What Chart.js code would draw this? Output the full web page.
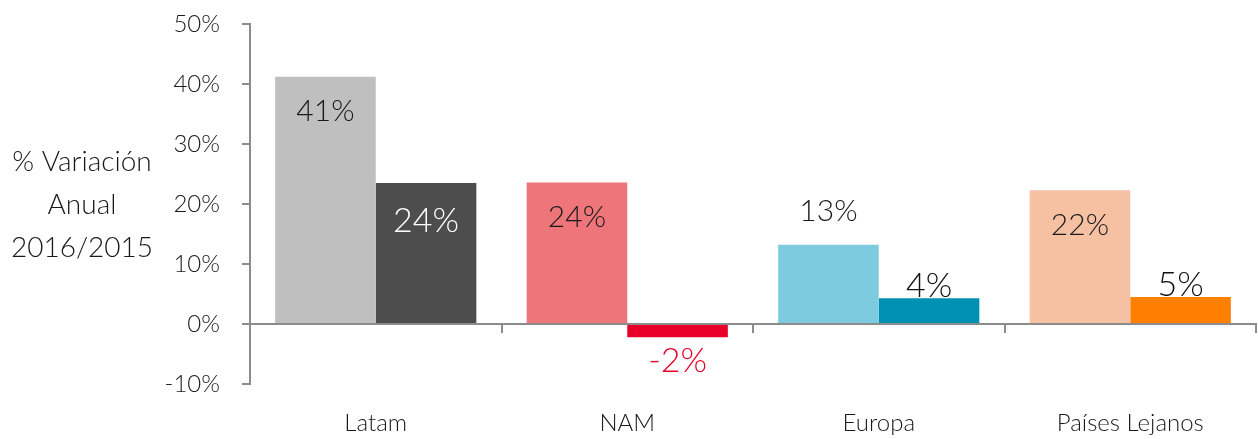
<!DOCTYPE html>
<html>
<head>
<meta charset="utf-8">
<script src="https://cdn.jsdelivr.net/npm/chart.js@4"></script>
<style>
  body { margin: 0; background: #fff; }
  #wrap { width: 1258px; height: 439px; position: relative; }
</style>
</head>
<body>
<div id="wrap"><canvas id="chart"></canvas></div>
<script>
const categories = ['Latam', 'NAM', 'Europa', 'Países Lejanos'];
const serie1 = [41.2, 23.6, 13.2, 22.3];
const serie2 = [23.5, -2.2, 4.3, 4.5];
const yMin = -10;
const yMax = 50;
const yStep = 10;
const yTitle = ['% Variación', 'Anual', '2016/2015'];

const colors1 = ['#BFBFBF', '#EE767B', '#7ECBE0', '#F6C1A3'];
const colors2 = ['#4D4D4D', '#E8002A', '#0090B3', '#FF8000'];
const labelColors2 = ['#ffffff', '#E8002A', '#111111', '#111111'];
const axisGrey = '#8c8c8c';
const fontFamily = "Lato, 'Open Sans', sans-serif";

// value labels drawn on / above / below each bar
const valueLabels = {
    id: 'valueLabels',
    afterDatasetsDraw(chart) {
        const ctx = chart.ctx;
        ctx.save();
        ctx.textAlign = 'center';
        ctx.textBaseline = 'middle';
        chart.data.datasets.forEach((ds, i) => {
            const meta = chart.getDatasetMeta(i);
            meta.data.forEach((bar, j) => {
                const v = ds.data[j];
                const h = Math.abs(bar.base - bar.y);
                let y;
                if (i === 0) {
                    ctx.font = '300 30px ' + fontFamily;
                    ctx.fillStyle = '#1a1a1a';
                    y = h > 100 ? bar.y + 35 : bar.y - 33;
                } else {
                    ctx.font = '300 34px ' + fontFamily;
                    ctx.fillStyle = labelColors2[j];
                    if (v < 0) y = bar.y + 24;
                    else y = h > 100 ? bar.y + 38 : bar.y - 12;
                }
                ctx.fillText(Math.round(v) + '%', bar.x, y);
            });
        });
        ctx.restore();
    }
};

// horizontal y-axis title on the left
const sideTitle = {
    id: 'sideTitle',
    afterDraw(chart) {
        const ctx = chart.ctx;
        ctx.save();
        ctx.font = '300 28px ' + fontFamily;
        ctx.fillStyle = '#1a1a1a';
        ctx.textAlign = 'center';
        ctx.textBaseline = 'middle';
        yTitle.forEach((line, k) => {
            ctx.fillText(line, 82, 162 + k * 43);
        });
        ctx.restore();
    }
};

const ctx = document.getElementById('chart').getContext('2d');
new Chart(ctx, {
    type: 'bar',
    data: {
        labels: categories,
        datasets: [{
            data: serie1,
            backgroundColor: colors1,
            categoryPercentage: 0.8,
            barPercentage: 1
        }, {
            data: serie2,
            backgroundColor: colors2,
            categoryPercentage: 0.8,
            barPercentage: 1
        }]
    },
    options: {
        responsive: true,
        maintainAspectRatio: false,
        animation: false,
        layout: { padding: { top: 24, right: 2, bottom: 0, left: 0 } },
        plugins: {
            legend: { display: false },
            tooltip: { enabled: false }
        },
        scales: {
            y: {
                min: yMin,
                max: yMax,
                afterFit(scale) {
                    scale.width = 250;
                    // tick padding is horizontal only here, keep it out of the top/bottom room
                    scale.paddingTop = 14;
                    scale.paddingBottom = 14;
                },
                ticks: {
                    stepSize: yStep,
                    padding: 22,
                    color: '#1a1a1a',
                    font: { family: fontFamily, size: 24, weight: 300 },
                    callback: v => v + '%'
                },
                grid: {
                    drawOnChartArea: false,
                    tickLength: 8,
                    tickColor: axisGrey,
                    lineWidth: 2
                },
                border: { color: axisGrey, width: 2 }
            },
            x: {
                afterFit(scale) { scale.height = 55; },
                grid: { display: false },
                border: { display: false },
                ticks: {
                    padding: 17,
                    color: '#1a1a1a',
                    font: { family: fontFamily, size: 24, weight: 300 }
                }
            },
            x2: {
                type: 'category',
                labels: categories,
                position: { y: 0 },
                offset: true,
                grid: {
                    offset: true,
                    drawOnChartArea: false,
                    tickLength: 8,
                    tickColor: axisGrey,
                    lineWidth: 2
                },
                border: { color: axisGrey, width: 2 },
                ticks: { display: false }
            }
        }
    },
    plugins: [valueLabels, sideTitle]
});
</script>
</body>
</html>
